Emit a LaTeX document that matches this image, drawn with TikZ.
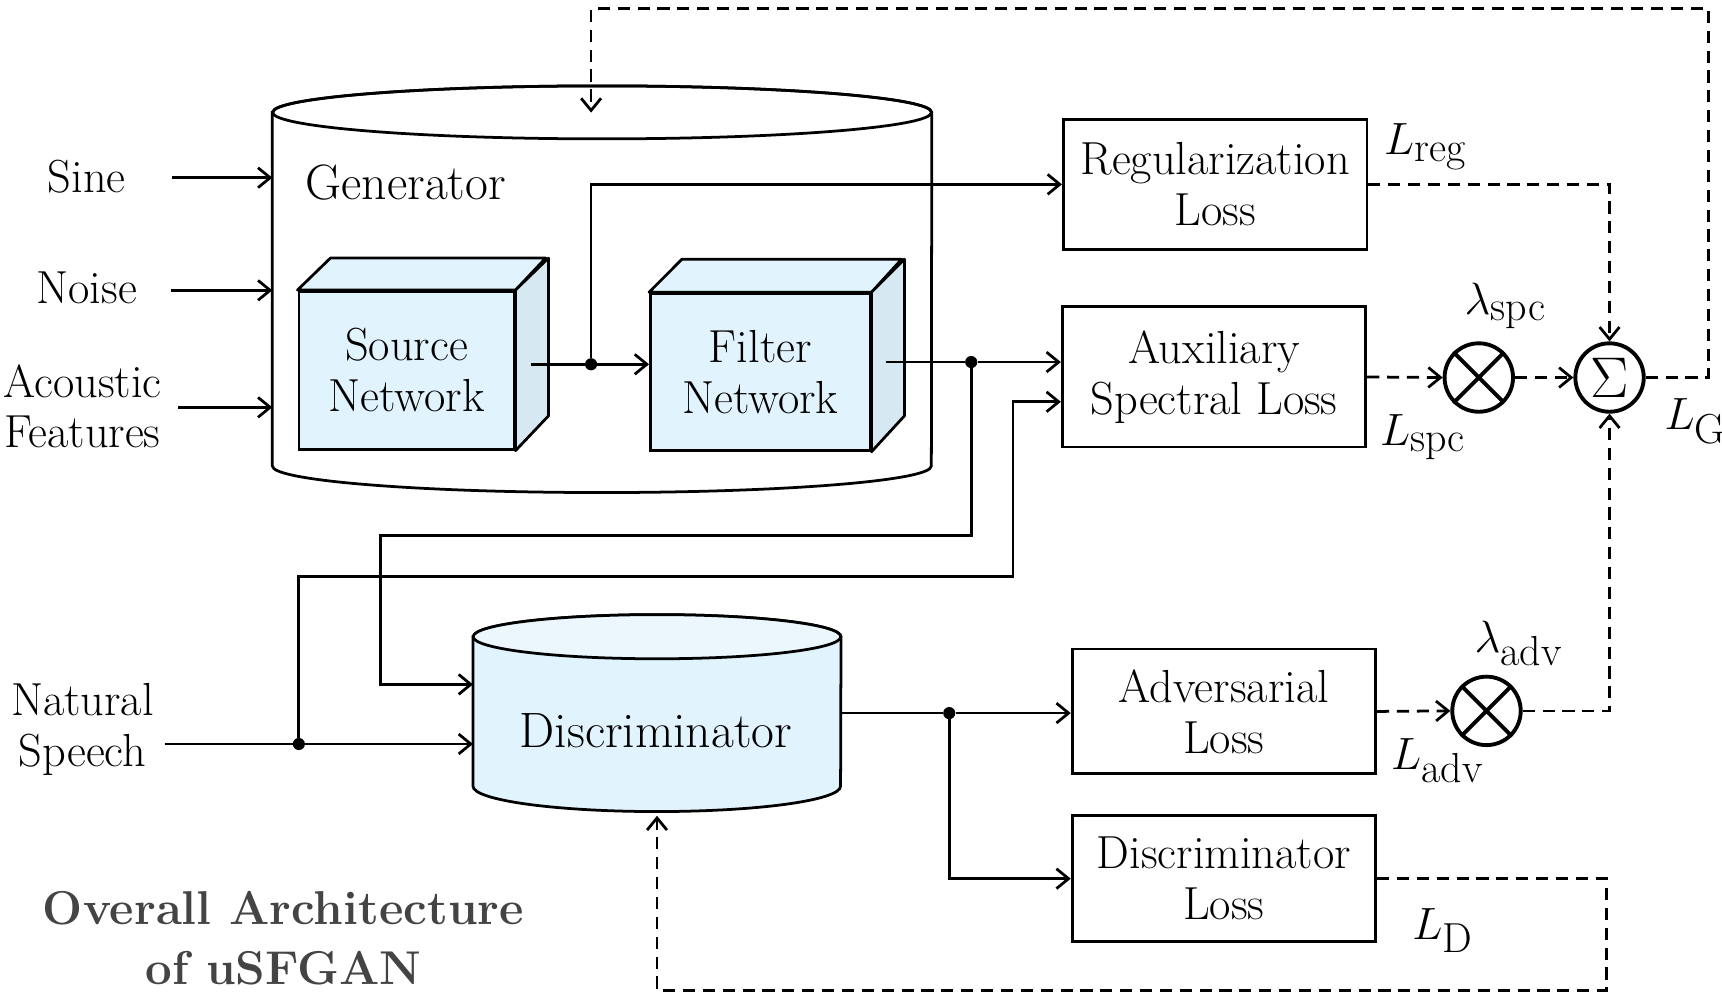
\RequirePackage{fix-cm}
\documentclass[tikz,border=0pt]{standalone}
\usetikzlibrary{arrows.meta,calc}
\definecolor{cubefront}{HTML}{E1F3FD}
\definecolor{cubeside}{HTML}{D6E8F1}
\definecolor{discfill}{HTML}{E1F3FD}
\definecolor{disctop}{HTML}{EBF7FD}
\definecolor{titlegray}{HTML}{444444}
\newcommand\bodyfont{\fontsize{42}{46}\selectfont}
\newcommand\bigbody{\fontsize{45}{50}\selectfont}
\newcommand\sbs[1]{\mbox{\fontsize{38}{38}\selectfont #1}}
\tikzset{
  ln/.style={line width=2.5pt},
  arr/.style={ln,-{Straight Barb[length=11pt,width=18pt,line width=2.5pt]}},
  darr/.style={arr,dash pattern=on 11pt off 7pt},
  lossbox/.style={draw,line width=2.5pt,minimum width=275pt,align=center,font=\bodyfont,inner sep=0pt},
  lbl/.style={font=\bodyfont,align=center},
  mlbl/.style={font=\fontsize{41}{46}\selectfont},
  jdot/.style={circle,fill=black,inner sep=0pt,minimum size=11pt},
  opc/.style={circle,draw,line width=3.5pt,minimum size=62pt,inner sep=0pt},
  cubeface/.style={draw,line width=2.5pt,fill=cubefront,align=center,font=\bodyfont,inner sep=0pt},
}
\begin{document}
\begin{tikzpicture}[x=0.9953pt,y=-1pt]
\useasboundingbox (0pt,0pt) rectangle (1560pt,-902.3pt);
% ---------- Generator cylinder ----------
\node[minimum width=597pt,minimum height=320pt,inner sep=0pt] (gen) at (548,262) {};
\draw[ln,fill=white] (gen.north west) -- (gen.south west)
  arc[start angle=180,end angle=360,x radius=298.5pt,y radius=24pt] -- (gen.north east)
  arc[start angle=0,end angle=180,x radius=298.5pt,y radius=24pt] -- cycle;
\draw[ln] (gen.north) ellipse[x radius=298.5pt,y radius=24pt];
\node[font=\bigbody,anchor=west,inner sep=0pt] (genlbl) at (278,165) {Generator};
% ---------- cubes ----------
\node[cubeface,minimum width=195pt,minimum height=143pt] (src) at (370,335.5) {Source\\Network};
\filldraw[ln,fill=cubefront,line join=round] (src.north west) -- ++(30,-29) -- ++(195pt,0) -- (src.north east) -- cycle;
\filldraw[ln,fill=cubeside,line join=round] (src.north east) -- ++(30,-29) -- ++(0,143) -- (src.south east) -- cycle;
\node[cubeface,minimum width=199pt,minimum height=142pt] (flt) at (692,337) {Filter\\Network};
\filldraw[ln,fill=cubefront,line join=round] (flt.north west) -- ++(30,-30) -- ++(199pt,0) -- (flt.north east) -- cycle;
\filldraw[ln,fill=cubeside,line join=round] (flt.north east) -- ++(30,-30) -- ++(0,142) -- (flt.south east) -- cycle;
% ---------- Discriminator cylinder ----------
\node[minimum width=333pt,minimum height=135pt,inner sep=0pt] (disc) at (598,644.5) {};
\draw[ln,fill=discfill] (disc.north west) -- (disc.south west)
  arc[start angle=180,end angle=360,x radius=166.5pt,y radius=23pt] -- (disc.north east)
  arc[start angle=0,end angle=180,x radius=166.5pt,y radius=20pt] -- cycle;
\draw[ln,fill=disctop] (disc.north) ellipse[x radius=166.5pt,y radius=20pt];
\node[font=\bigbody] (disclbl) at (597,662) {Discriminator};
% ---------- loss boxes ----------
\node[lossbox,minimum height=118pt] (reg) at (1106,167) {Regularization\\Loss};
\node[lossbox,minimum height=127pt] (aux) at (1105,341.5) {Auxiliary\\Spectral Loss};
\node[lossbox,minimum height=113pt] (adv) at (1114,644.5) {Adversarial\\Loss};
\node[lossbox,minimum height=114pt] (dis) at (1114,796) {Discriminator\\Loss};
% ---------- operators ----------
\node[opc] (mspc) at (1346,342) {};
\draw[line width=3.5pt] (mspc.north west) -- (mspc.south east) (mspc.north east) -- (mspc.south west);
\node[opc] (madv) at (1353,644) {};
\draw[line width=3.5pt] (madv.north west) -- (madv.south east) (madv.north east) -- (madv.south west);
\node[opc,font=\fontsize{52}{52}\selectfont] (sum) at (1465,342) {$\Sigma$};
% ---------- inputs ----------
\node[lbl] (sine) at (79,160) {Sine};
\node[lbl] (noise) at (79,261) {Noise};
\node[lbl] (acou) at (75,368) {Acoustic\\Features};
\node[lbl] (nat) at (75,661) {Natural\\Speech};
\coordinate (sinein) at (157,161);
\coordinate (noisein) at (156,263);
\coordinate (acouin) at (162,369);
\draw[arr] (sinein) -- (sinein -| gen.west);
\draw[arr] (noisein) -- (noisein -| gen.west);
\draw[arr] (acouin) -- (acouin -| gen.west);
% ---------- source / filter connections ----------
\coordinate (srcout) at (483,330);
\node[jdot] (j1) at (538,330) {};
\draw[ln] (srcout) -- (j1);
\draw[arr] (j1) -- (j1 -| flt.west);
\draw[arr] (j1) |- (reg.west);
\coordinate (fltout) at (806,328);
\node[jdot] (j2) at (884,328) {};
\draw[ln] (fltout) -- (j2);
\draw[arr] (j2) -- (j2 -| aux.west);
\coordinate (d1) at (346,485);
\coordinate (d2) at (346,620);
\draw[arr] (j2) |- (d1) -- (d2) -- (d2 -| disc.west);
% ---------- natural speech ----------
\coordinate (nsout) at (150,674);
\node[jdot] (j3) at (272,674) {};
\draw[ln] (nsout) -- (j3);
\draw[arr] (j3) -- (j3 -| disc.west);
\coordinate (e1) at (922,522);
\coordinate (e2) at (922,364);
\draw[arr] (j3) |- (e1) -- (e2) -- (e2 -| aux.west);
% ---------- discriminator output ----------
\node[jdot] (j4) at (864,646) {};
\draw[ln] (j4 -| disc.east) -- (j4);
\draw[arr] (j4) -- (j4 -| adv.west);
\draw[arr] (j4) |- (dis.west);
% ---------- dashed loss paths ----------
\draw[darr] (aux.east) -- (mspc.west);
\draw[darr] (mspc.east) -- (sum.west);
\draw[darr] (reg.east) -| (sum.north);
\draw[darr] (adv.east) -- (madv.west);
\draw[darr] (madv.east) -| (sum.south);
\coordinate (g1) at (1555,8);
\coordinate (g2) at (538,8);
\coordinate (g3) at (538,102);
\draw[darr] (sum.east) -| (g1) -- (g2) -- (g3);
\coordinate (h1) at (1462,897);
\coordinate (h2) at (598,897);
\coordinate (h3) at (598,739);
\draw[darr] (dis.east) -| (h1) -- (h2) -- (h3);
% ---------- math labels ----------
\node[mlbl] (lreg) at (1297,133) {$L_{\sbs{reg}}$};
\node[mlbl] (lamspc) at (1370,277) {$\lambda_{\sbs{spc}}$};
\node[mlbl] (lspc) at (1295,396) {$L_{\sbs{spc}}$};
\node[mlbl] (lg) at (1543,382) {$L_{\sbs{G}}$};
\node[mlbl] (lamadv) at (1382,583) {$\lambda_{\sbs{adv}}$};
\node[mlbl] (ladv) at (1308,689) {$L_{\sbs{adv}}$};
\node[mlbl] (ld) at (1313,843) {$L_{\sbs{D}}$};
% ---------- title ----------
\node[font=\fontsize{43}{55}\selectfont\bfseries,text=titlegray,align=center] (title) at (258,850) {Overall Architecture\\of uSFGAN};
\end{tikzpicture}
\end{document}
